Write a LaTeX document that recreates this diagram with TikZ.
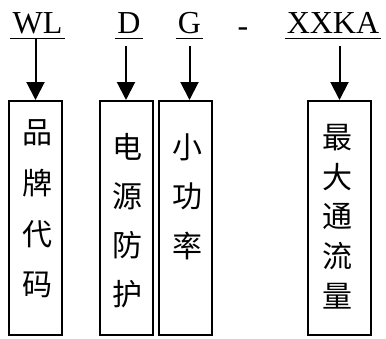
\documentclass[tikz,border=0pt]{standalone}
\usepackage{fontspec}
\setmainfont{Liberation Serif}
\newfontfamily\cjk{Noto Sans CJK SC}
\usetikzlibrary{positioning, arrows.meta}

\begin{document}
\begin{tikzpicture}[x=1pt,y=-1pt,
  code/.style={font=\fontsize{32}{32}\selectfont, anchor=base, inner xsep=2pt, inner ysep=5pt, text depth=0pt},
  box/.style={draw, line width=2pt, minimum width=53pt, minimum height=234pt, anchor=north, inner sep=0pt},
  zi/.style={font=\cjk\fontsize{30}{30}\selectfont, inner sep=0pt},
  arr/.style={-{Triangle[width=18pt,length=18pt]}, line width=2pt}]
\useasboundingbox (0,0) rectangle (386,338);
% model code
\node[code] (wl) at (37.5,33) {WL};
\node[code] (d) at (129,33) {D};
\node[code] (g) at (189.5,33) {G};
\node[code] (dash) at (243,36) {-};
\node[code] (xxka) at (333,33) {XXKA};
\foreach \n in {wl,d,g,xxka}
  \draw[line width=1.3pt] (\n.south west) -- (\n.south east);
% boxes
\node[box] (wlbox) at (35.5,100) {};
\node[box] (dbox) at (126,100) {};
\node[box] (gbox) at (185.5,100) {};
\node[box, minimum width=63pt] (xbox) at (339.5,100) {};
% arrows
\draw[arr] (wl.south -| wlbox.north) -- (wlbox.north);
\draw[arr, shorten <=8pt] (d.south -| dbox.north) -- (dbox.north);
\draw[arr, shorten <=8pt] (g.south) -- (g.south |- gbox.north);
\draw[arr, shorten <=8pt] (xxka.south -| xbox.north) -- (xbox.north);
% meanings
\foreach \c [count=\i] in {品,牌,代,码}
  \node[zi] (wl-\i) at (38,{133+50.5*(\i-1)}) {\c};
\foreach \c [count=\i] in {电,源,防,护}
  \node[zi] (d-\i) at (127,{147+49*(\i-1)}) {\c};
\foreach \c [count=\i] in {小,功,率}
  \node[zi] (g-\i) at (187.5,{147+49.5*(\i-1)}) {\c};
\foreach \c [count=\i] in {最,大,通,流,量}
  \node[zi] (x-\i) at (337,{137.5+39.6*(\i-1)}) {\c};
\end{tikzpicture}
\end{document}
